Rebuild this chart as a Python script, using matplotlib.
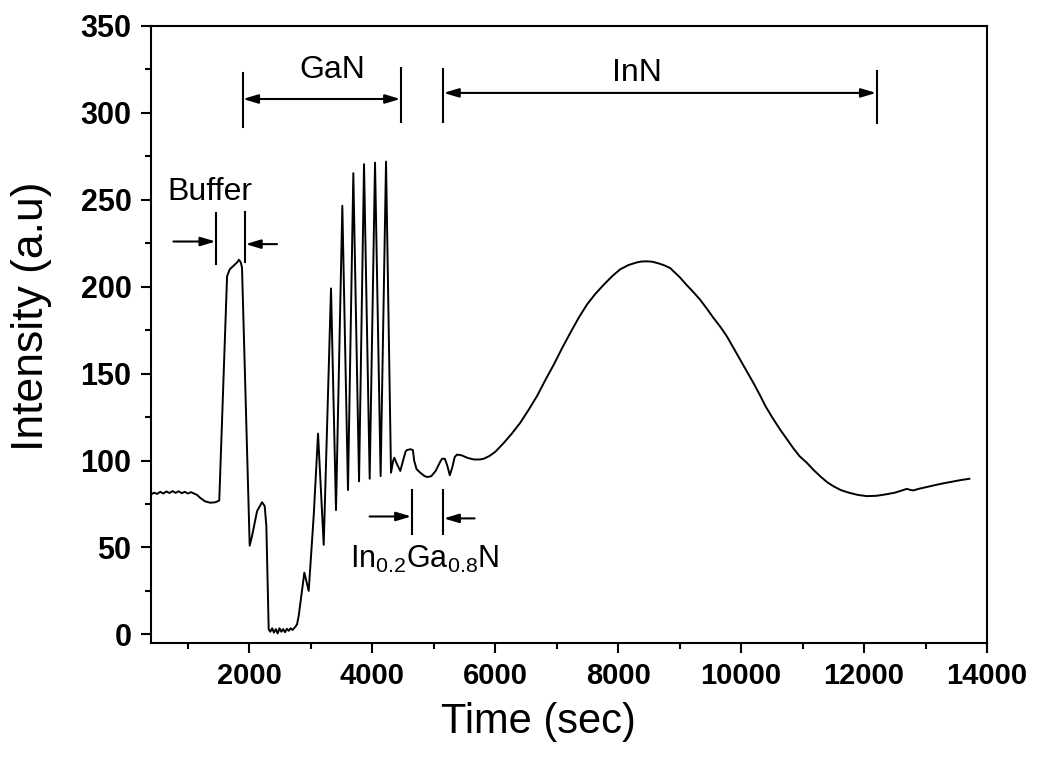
import numpy as np
import matplotlib
matplotlib.use("Agg")
import matplotlib.pyplot as plt
from matplotlib.ticker import MultipleLocator

plt.rcParams['font.family'] = ['Liberation Sans', 'DejaVu Sans']
plt.rcParams['mathtext.fontset'] = 'custom'
plt.rcParams['mathtext.rm'] = 'Liberation Sans'
plt.rcParams['mathtext.it'] = 'Liberation Sans:italic'
plt.rcParams['mathtext.bf'] = 'Liberation Sans:bold'

# --- data ---
time_s = [
    400, 450, 500, 550, 600, 650, 700, 750, 800, 850, 900, 950, 1000, 1050,
    1100, 1150, 1200, 1280, 1366, 1450, 1510,
    1637, 1680, 1740, 1800, 1830, 1860, 1880,
    2005, 2043, 2125, 2206, 2249, 2276,
    2314, 2340, 2370, 2400, 2430, 2460, 2490, 2520, 2550, 2580, 2610, 2640,
    2670, 2700, 2740, 2775, 2802, 2894, 2965, 3046,
    3117, 3209, 3328, 3409, 3512, 3604, 3691, 3784, 3865, 3957, 4044, 4135,
    4223, 4304,
    4340, 4358, 4400, 4455, 4500, 4540, 4560, 4620, 4660, 4680, 4720, 4780,
    4850, 4900, 4960, 5030, 5100, 5133, 5180, 5220, 5260, 5300, 5340, 5377,
    5450, 5550, 5650, 5750, 5810, 5900, 6000, 6135, 6270, 6406, 6540, 6678,
    6810, 6949, 7085, 7220, 7355, 7491, 7626, 7761, 7900, 8032, 8170, 8304,
    8380, 8467, 8550, 8650, 8750, 8846, 9000, 9100, 9220, 9333, 9450, 9550,
    9660, 9767, 9880,
    10000, 10100, 10200, 10300, 10400, 10520, 10634, 10750, 10850, 10950,
    11068, 11180, 11300, 11400, 11501, 11620, 11750, 11900, 12044, 12200,
    12350, 12500, 12620, 12694, 12740, 12800, 12900, 13000, 13127, 13250,
    13400, 13550, 13712,
]
intensity = [
    80.5, 81.5, 80.8, 82.0, 81.0, 82.2, 81.3, 82.4, 81.4, 82.3, 81.2, 82.0, 81.0, 81.8,
    81.0, 80.2, 78.5, 76.5, 75.7, 76.0, 77.0,
    206.0, 210.0, 212.0, 214.0, 215.5, 214.0, 211.0,
    51.0, 56.5, 70.9, 76.0, 73.8, 62.3,
    2.9, 1.5, 3.5, 1.0, 3.0, 0.5, 3.5, 1.5, 3.0, 1.2, 3.2, 2.0,
    3.5, 2.5, 4.0, 5.7, 10.5, 35.5, 25.0, 68.0,
    115.5, 51.5, 199.0, 71.5, 246.6, 83.0, 265.3, 88.0, 270.5, 89.5, 271.4, 91.0,
    272.0, 93.0,
    100.0, 101.6, 98.0, 94.0, 100.0, 105.0, 106.0, 106.5, 106.0, 100.0, 95.0, 93.0,
    91.0, 90.5, 91.0, 94.0, 99.0, 101.0, 101.0, 97.0, 91.5, 96.0, 102.0, 103.4,
    103.0, 101.5, 100.6, 100.6, 101.0, 102.5, 105.0, 110.0, 115.5, 121.7, 129.0, 137.0,
    146.0, 155.0, 164.5, 173.4, 182.0, 189.7, 195.8, 201.0, 206.0, 210.0, 212.5, 214.0,
    214.5, 214.6, 214.4, 213.5, 212.3, 210.7, 205.5, 201.5, 197.0, 192.5, 187.0, 182.0,
    177.0, 171.5, 164.5,
    157.0, 151.0, 144.6, 138.0, 131.0, 124.0, 117.8, 112.0, 107.0, 102.5,
    98.7, 94.5, 90.5, 87.5, 85.2, 83.0, 81.5, 80.2, 79.5, 79.7,
    80.5, 81.5, 82.8, 83.7, 83.2, 82.8, 83.8, 84.6, 85.6, 86.6,
    87.6, 88.6, 89.5,
]

fig = plt.figure(figsize=(10.38, 7.58), dpi=100)
ax = fig.add_axes([0.1455, 0.1517, 0.8054, 0.8140])

ax.plot(time_s, intensity, color='black', linewidth=1.4)

ax.set_xlim(400, 14000)
ax.set_ylim(-5, 350)
ax.xaxis.set_major_locator(MultipleLocator(2000))
ax.xaxis.set_minor_locator(MultipleLocator(1000))
ax.yaxis.set_major_locator(MultipleLocator(50))
ax.yaxis.set_minor_locator(MultipleLocator(25))
ax.tick_params(which='both', direction='out', top=False, right=False, width=1.5)
ax.tick_params(which='major', length=7)
ax.tick_params(which='minor', length=4)
ax.tick_params(axis='x', pad=7)
ax.tick_params(axis='y', pad=7)
for lbl in ax.get_xticklabels():
    lbl.set_fontsize(21)
    lbl.set_fontweight('bold')
for lbl in ax.get_yticklabels():
    lbl.set_fontsize(22)
    lbl.set_fontweight('bold')
for sp in ax.spines.values():
    sp.set_linewidth(1.5)

ax.set_xlabel('Time (sec)', fontsize=30)
ax.xaxis.set_label_coords(0.463, -0.095)
ax.set_ylabel('Intensity (a.u)', fontsize=32)
ax.yaxis.set_label_coords(-0.118, 0.53)

# --- layer markers ---
mk = dict(color='black', linewidth=1.5)
single = dict(arrowstyle='-|>,head_length=0.6,head_width=0.18', color='black',
              lw=1.5, shrinkA=0, shrinkB=0, mutation_scale=15)
double = dict(arrowstyle='<|-|>,head_length=0.6,head_width=0.18', color='black',
              lw=1.5, shrinkA=0, shrinkB=0, mutation_scale=15)

# Buffer
ax.plot([1463, 1463], [213, 242.5], **mk)
ax.plot([1924, 1924], [214, 243], **mk)
ax.annotate('', xy=(1450, 226), xytext=(764, 226), arrowprops=single)
ax.annotate('', xy=(1938, 224.5), xytext=(2450, 224.5), arrowprops=single)
ax.text(1350, 250, 'Buffer', fontsize=23, ha='center', va='baseline')

# GaN
ax.plot([1891, 1891], [292, 323], **mk)
ax.plot([4472, 4472], [295, 326], **mk)
ax.annotate('', xy=(4455, 308), xytext=(1895, 308), arrowprops=double)
ax.text(3350, 320, 'GaN', fontsize=23, ha='center', va='baseline')

# InN
ax.plot([5149, 5149], [295, 325], **mk)
ax.plot([12206, 12206], [294, 324], **mk)
ax.annotate('', xy=(12195, 311.5), xytext=(5160, 311.5), arrowprops=double)
ax.text(8304, 318.5, 'InN', fontsize=23, ha='center', va='baseline')

# In0.2Ga0.8N
ax.plot([4645, 4645], [57.5, 83.3], **mk)
ax.plot([5149, 5149], [57.5, 83.3], **mk)
ax.annotate('', xy=(4633, 67.8), xytext=(3956, 67.8), arrowprops=single)
ax.annotate('', xy=(5162, 66.7), xytext=(5664, 66.7), arrowprops=single)
ax.text(4850, 38.5, r'In$_{\mathrm{0.2}}$Ga$_{\mathrm{0.8}}$N', fontsize=22,
        ha='center', va='baseline')

fig.savefig('out.png', dpi=100)
